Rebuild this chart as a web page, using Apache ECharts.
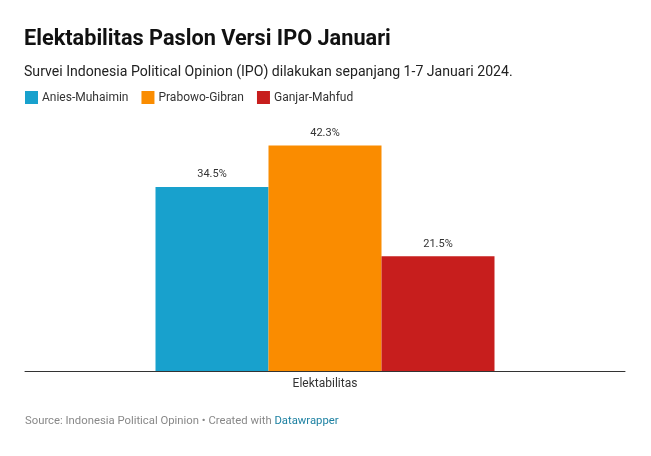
<!DOCTYPE html>
<html><head><meta charset="utf-8">
<script src="https://cdn.jsdelivr.net/npm/echarts@6/dist/echarts.min.js"></script>
<style>html,body{margin:0;padding:0;background:#fff}#c{width:651px;height:456px}</style>
</head><body><div id="c"></div>
<script>
const categories = ['Elektabilitas'];
const seriesNames = ['Anies-Muhaimin', 'Prabowo-Gibran', 'Ganjar-Mahfud'];
const seriesValues = [[34.5], [42.3], [21.5]];
const colors = ['#18a1cd', '#fa8c00', '#c71e1d'];

const chart = echarts.init(document.getElementById('c'), null, {renderer: 'canvas'});
const font = 'Roboto, sans-serif';
chart.setOption({
  backgroundColor: '#fff',
  animation: false,
  title: [
    {text: 'Elektabilitas Paslon Versi IPO Januari', left: 19, top: 24,
     textStyle: {fontFamily: font, fontSize: 21.7, fontWeight: 'bold', color: '#111'}},
    {text: 'Survei Indonesia Political Opinion (IPO) dilakukan sepanjang 1-7 Januari 2024.', left: 19, top: 60,
     textStyle: {fontFamily: font, fontSize: 14.1, fontWeight: 'normal', color: '#222'}},
    {text: '{a|Source: Indonesia Political Opinion • Created with }{b|Datawrapper}', left: 20, top: 411,
     textStyle: {fontWeight: 'normal', rich: {
       a: {fontFamily: font, fontSize: 11.3, fontWeight: 'normal', color: '#888'},
       b: {fontFamily: font, fontSize: 11.3, fontWeight: 'normal', color: '#1d81a2'}}}}
  ],
  legend: {
    left: 20, top: 86, icon: 'rect', itemWidth: 13, itemHeight: 13, itemGap: 13,
    data: seriesNames,
    textStyle: {fontFamily: font, fontSize: 12, color: '#333', padding: [0, 0, 0, -1]}
  },
  grid: {left: 25, right: 26, top: 131, bottom: 85, containLabel: false},
  xAxis: {
    type: 'category', data: categories,
    axisLine: {lineStyle: {color: '#333', width: 1}},
    axisTick: {show: false},
    axisLabel: {fontFamily: font, fontSize: 12, color: '#333', margin: 7}
  },
  yAxis: {type: 'value', min: 0, max: 45, show: false, splitLine: {show: false}},
  series: seriesNames.map((n, i) => ({
    name: n, type: 'bar', data: seriesValues[i], barWidth: 113, barGap: '0%',
    itemStyle: {color: colors[i]},
    label: {show: true, position: 'top', distance: 7, formatter: p => p.value.toFixed(1) + '%',
      fontFamily: font, fontSize: 11, color: '#333'}
  }))
});
</script></body></html>
